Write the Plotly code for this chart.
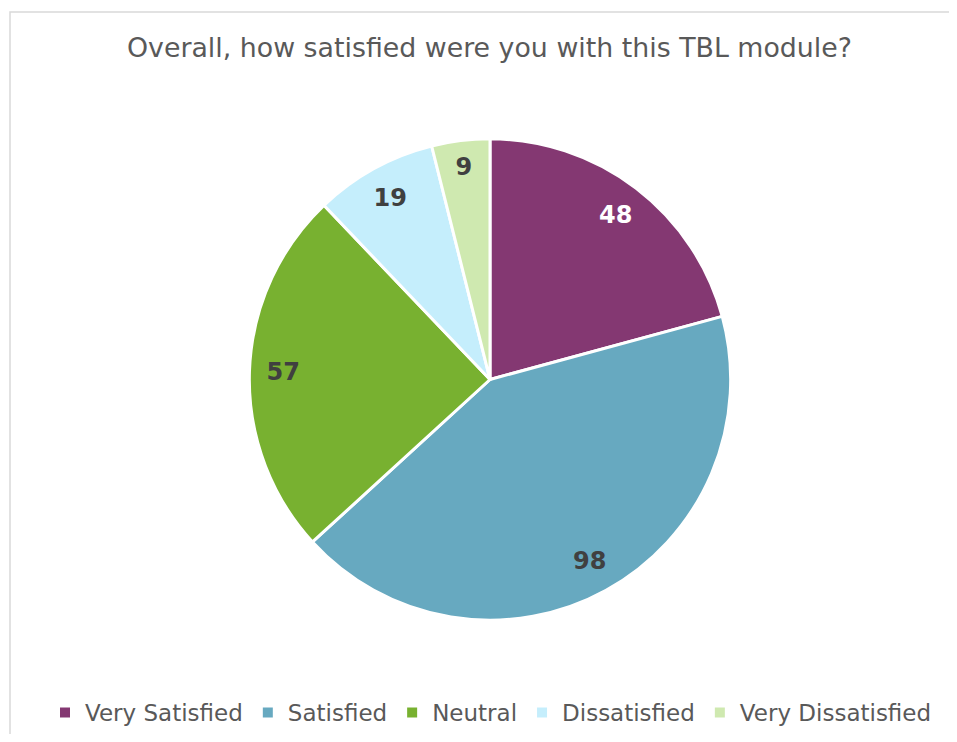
import plotly.graph_objects as go

categories = ["Very Satisfied", "Satisfied", "Neutral", "Dissatisfied", "Very Dissatisfied"]
values = [48, 98, 57, 19, 9]
colors = ["#843872", "#67A9C0", "#78B130", "#C5EEFC", "#CFE9B0"]
label_colors = ["#FFFFFF", "#404040", "#404040", "#404040", "#404040"]
title_text = "Overall, how satisfied were you with this TBL module?"

# page has an 8px body margin; size the figure so no scrollbars appear
OFF = 8
W, H = 957 - 2 * OFF, 742 - 2 * OFF


def px(x):  # page x -> paper fraction
    return (x - OFF) / W


def py(y):  # page y -> paper fraction
    return (H - (y - OFF)) / H


cx, cy, r = 490, 380, 241
dom_x = [px(cx - r), px(cx + r)]
dom_y = [py(cy + r), py(cy - r)]

fig = go.Figure()
fig.add_trace(go.Pie(
    labels=categories, values=values, sort=False, direction="clockwise", rotation=0,
    marker=dict(colors=colors, line=dict(color="white", width=3)),
    textinfo="none", hoverinfo="label+value",
    domain=dict(x=dom_x, y=dom_y),
))
# transparent ring trace to place the value labels near the outer edge
fig.add_trace(go.Pie(
    labels=categories, values=values, sort=False, direction="clockwise", rotation=0,
    hole=0.72,
    marker=dict(colors=["rgba(0,0,0,0)"] * len(values), line=dict(width=0)),
    textinfo="value", textposition="inside", insidetextorientation="horizontal",
    textfont=dict(family="DejaVu Sans", size=24, color=label_colors, weight="bold"),
    hoverinfo="skip", showlegend=False,
    domain=dict(x=dom_x, y=dom_y),
))

fig.update_layout(
    width=W, height=H,
    margin=dict(l=0, r=0, t=0, b=0),
    paper_bgcolor="white", plot_bgcolor="white",
    title=dict(text=title_text, x=px(489.5), xanchor="center", y=py(48), yanchor="middle",
               font=dict(family="DejaVu Sans", size=26.8, color="#595959")),
    legend=dict(orientation="h", x=px(491), xanchor="center", y=py(713), yanchor="middle",
                font=dict(family="DejaVu Sans", size=23, color="#595959"),
                itemsizing="constant", traceorder="normal", itemwidth=30),
    shapes=[dict(type="rect", xref="paper", yref="paper",
                 x0=px(10), x1=1.05, y0=-0.05, y1=py(12),
                 line=dict(color="#D9D9D9", width=1.5), fillcolor="rgba(0,0,0,0)", layer="below")],
)

fig.write_html("out.html")
